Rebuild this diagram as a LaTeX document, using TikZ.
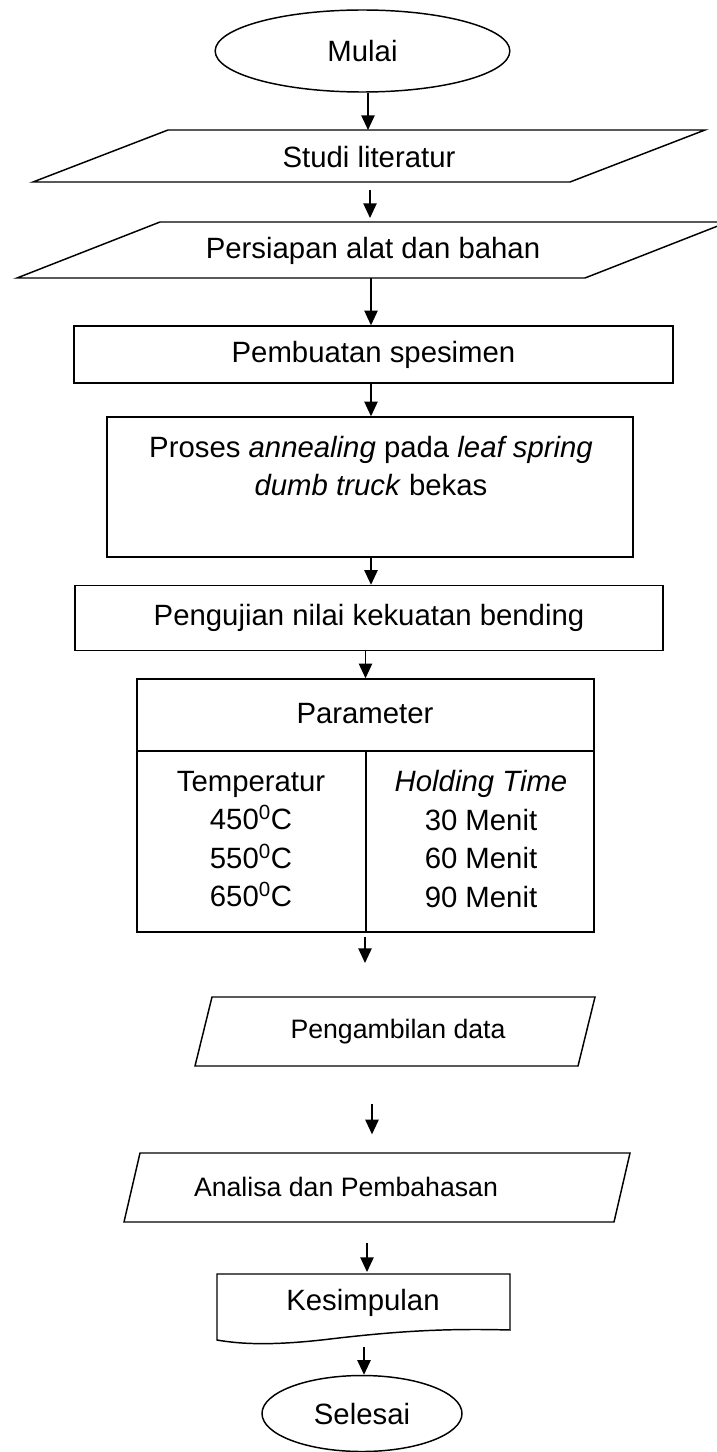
\documentclass[tikz,border=0pt]{standalone}
\usepackage{fontspec}
\setmainfont{Liberation Sans}
\usetikzlibrary{shapes.geometric,arrows.meta}
\begin{document}
\begin{tikzpicture}[x=0.75pt,y=-0.75pt,
  outline/.style={draw, line width=1.1pt},
  txt/.style={font=\fontsize{22}{26}\selectfont, inner sep=0pt},
  smalltxt/.style={font=\fontsize{20}{24}\selectfont, inner sep=0pt},
  arr/.style={-{Triangle[length=11pt,width=10pt]}, line width=1.1pt},
  term/.style={ellipse, draw, line width=1.1pt, inner sep=0pt},
  box/.style={rectangle, draw, line width=1.1pt, inner sep=0pt}]
\useasboundingbox (0,0) rectangle (717,1452);

% Mulai
\node[term, txt, minimum width=221pt, minimum height=61.5pt] (mulai) at (362.5,51) {Mulai};

% Studi literatur
\draw[outline] (168,130) -- (705,130) -- (570,182) -- (33,182) -- cycle;
\node[txt] (studi) at (369,157) {Studi literatur};
\coordinate (studiT) at (368,130);
\coordinate (studiB) at (370,182);

% Persiapan
\draw[outline] (160,222) -- (728,222) -- (585,278) -- (17,278) -- cycle;
\node[txt] (pers) at (373,251) {Persiapan alat dan bahan};
\coordinate (persT) at (370,222);
\coordinate (persB) at (371,278);

% Pembuatan
\node[box, txt, minimum width=449.25pt, minimum height=42.75pt] (pemb) at (373.5,354.5) {Pembuatan spesimen};

% Proses
\node[box, minimum width=394.5pt, minimum height=105pt] (proses) at (370,487) {};
\node[txt, align=center, font=\fontsize{22}{28.5}\selectfont] (prosesT) at (371,466)
  {Proses \textit{annealing} pada \textit{leaf spring}\\\textit{dumb truck} bekas};

% Pengujian
\node[box, txt, minimum width=441pt, minimum height=48.75pt] (uji) at (369,618) {Pengujian nilai kekuatan bending};

% Table
\node[box, minimum width=342.75pt, minimum height=189.75pt] (tbl) at (365.5,805.5) {};
\draw[outline] (137,751) -- (594,751);
\draw[outline] (366,751) -- (366,932);
\node[txt] (param) at (365,714) {Parameter};
\node[txt, align=center, font=\fontsize{22}{28.8}\selectfont] (temp) at (251,839)
  {Temperatur\\450\textsuperscript{0}C\\550\textsuperscript{0}C\\650\textsuperscript{0}C};
\node[txt, align=center, font=\fontsize{22}{28.8}\selectfont] (hold) at (481,839)
  {\textit{Holding Time}\\30 Menit\\60 Menit\\90 Menit};

% Pengambilan data
\draw[outline] (212,997) -- (595,997) -- (578,1066) -- (195,1066) -- cycle;
\node[smalltxt] (ambil) at (398,1032) {Pengambilan data};
\coordinate (ambilT) at (365,997);
\coordinate (ambilB) at (372,1066);

% Analisa
\draw[outline] (140,1153) -- (630,1153) -- (614,1222) -- (124,1222) -- cycle;
\node[smalltxt] (anal) at (346,1187) {Analisa dan Pembahasan};
\coordinate (analT) at (372,1153);
\coordinate (analB) at (367,1222);

% Kesimpulan (document)
\draw[outline] (217,1340) -- (217,1274) -- (510,1274) -- (510,1330)
  .. controls (440,1328) and (390,1332) .. (330,1339)
  .. controls (280,1345) and (245,1345) .. (217,1340) -- cycle;
\node[txt] (kes) at (363,1303) {Kesimpulan};
\coordinate (kesT) at (367,1274);
\coordinate (kesB) at (364,1337);

% Selesai
\node[term, txt, minimum width=150pt, minimum height=57pt] (selesai) at (362,1413.5) {Selesai};

% Connectors
\draw[arr] (mulai.south -| studiT) -- (studiT);
\draw[arr, shorten <=6pt, shorten >=3pt] (studiB) -- (persT);
\draw[arr] (persB) -- (persB |- pemb.north);
\draw[arr] (pemb.south -| persB) -- (persB |- proses.north);
\draw[arr] (proses.south -| persB) -- (persB |- uji.north);
\draw[arr] (uji.south -| tbl.north) -- (tbl.north);
\draw[arr, shorten <=3pt, shorten >=25.5pt] (tbl.south -| ambilT) -- (ambilT);
\draw[arr, shorten <=28.5pt, shorten >=14pt] (ambilB) -- (analT);
\draw[arr, shorten <=15.75pt, shorten >=1.5pt] (analB) -- (kesT);
\draw[arr, shorten <=7.5pt] (kesB) -- (selesai.north -| kesB);
\end{tikzpicture}
\end{document}
